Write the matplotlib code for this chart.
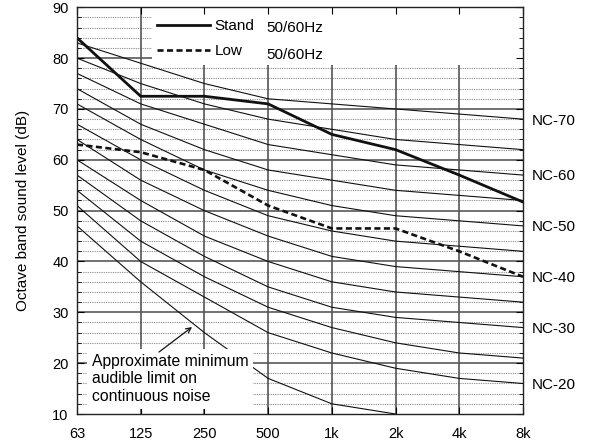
import matplotlib
matplotlib.use("Agg")
import matplotlib.pyplot as plt
from matplotlib.patches import Rectangle
from matplotlib.ticker import MultipleLocator

plt.rcParams['font.family'] = ['Liberation Sans', 'DejaVu Sans']
plt.rcParams['font.size'] = 11

freq_labels = ["63", "125", "250", "500", "1k", "2k", "4k", "8k"]

nc_names = ["NC-20", "NC-25", "NC-30", "NC-35", "NC-40", "NC-45",
            "NC-50", "NC-55", "NC-60", "NC-65", "NC-70"]
nc20 = [51, 40, 33, 26, 22, 19, 17, 16]
nc25 = [54, 44, 37, 31, 27, 24, 22, 21]
nc30 = [57, 48, 41, 35, 31, 29, 28, 27]
nc35 = [60, 52, 45, 40, 36, 34, 33, 32]
nc40 = [64, 56, 50, 45, 41, 39, 38, 37]
nc45 = [67, 60, 54, 49, 46, 44, 43, 42]
nc50 = [71, 64, 58, 54, 51, 49, 48, 47]
nc55 = [74, 67, 62, 58, 56, 54, 53, 52]
nc60 = [77, 71, 67, 63, 61, 59, 58, 57]
nc65 = [80, 75, 71, 68, 66, 64, 63, 62]
nc70 = [83, 79, 75, 72, 71, 70, 69, 68]
nc_curves = [nc20, nc25, nc30, nc35, nc40, nc45, nc50, nc55, nc60, nc65, nc70]
nc_labelled = ["NC-20", "NC-30", "NC-40", "NC-50", "NC-60", "NC-70"]

audible_limit = [47, 36, 26, 17, 12, 10]

stand_label = "Stand"
stand = [84, 72.5, 72.5, 71, 65, 62, 57, 51.7]
low_label = "Low"
low = [63, 61.5, 58, 51, 46.5, 46.5, 42, 37]
supply_label = "50/60Hz"

fig = plt.figure(figsize=(5.89, 4.46), dpi=100)
ax = fig.add_axes([77/589, 1-414/446, (523-77)/589, (414-7.3)/446])

x = list(range(len(freq_labels)))
ax.set_xlim(0, len(freq_labels) - 1)
ax.set_ylim(10, 90)

# grid
for v in range(12, 90, 2):
    if v % 10 != 0:
        ax.axhline(v, color="#8a8a8a", lw=0.8, ls=(0, (0.8, 0.8)), zorder=0.5)
for v in range(20, 90, 10):
    ax.axhline(v, color="#666666", lw=1.3, zorder=0.6)
for xi in x[1:-1]:
    ax.axvline(xi, color="#555555", lw=1.2, zorder=0.6)

# NC curves
for name, vals in zip(nc_names, nc_curves):
    ax.plot(x, vals, color="#111111", lw=0.8, zorder=2)
    if name in nc_labelled:
        ax.annotate(name, xy=(x[-1], vals[-1]), xytext=(6, -1),
                    textcoords="offset points", ha="left", va="center",
                    fontsize=11, annotation_clip=False)

ax.plot(x[:len(audible_limit)], audible_limit, color="#111111", lw=0.8, zorder=2)

# equipment lines
l1, = ax.plot(x, stand, color="#111111", lw=2.0, zorder=3)
l2, = ax.plot(x, low, color="#111111", lw=1.9, ls=(0, (2.3, 1.3)), zorder=3)

# legend area (white block, no border)
ax.add_patch(Rectangle(((152-77)/446, (78.6-10)/80), 1-(152-77)/446, 1-(78.6-10)/80,
                       transform=ax.transAxes, facecolor="white",
                       edgecolor="none", zorder=1.5))
leg = ax.legend([l1, l2], [stand_label, low_label], loc="upper left",
                bbox_to_anchor=((157-77)/446, 1-(19.5-7.3)/406.7), frameon=False,
                handlelength=3.45, handletextpad=0.33, labelspacing=0.71,
                fontsize=11, borderpad=0, borderaxespad=0)
for ypx in (32.5, 59.0):
    ax.text((266.7-77)/446, 1-(ypx-7.3)/406.7, supply_label, transform=ax.transAxes,
            ha="left", va="baseline", fontsize=11, zorder=5)

# annotation
ax.text((91.5-77)/63.7, 16.9, "Approximate minimum\naudible limit on\ncontinuous noise",
        ha="left", va="center", fontsize=11.3, linespacing=1.22,
        bbox=dict(boxstyle="square,pad=0.3", facecolor="white", edgecolor="none"),
        zorder=6)
arrow = ax.annotate("", xy=((192-77)/63.7, 10+(414-327)/5.084),
                    xytext=((159-77)/63.7, 10+(414-352)/5.084),
                    arrowprops=dict(arrowstyle="->", color="#111111", lw=0.9,
                                    shrinkA=0, shrinkB=0, mutation_scale=9))
arrow.set_zorder(8)

ax.set_xticks(x)
ax.set_xticklabels(freq_labels)
ax.yaxis.set_major_locator(MultipleLocator(10))
ax.yaxis.set_minor_locator(MultipleLocator(2))
ax.tick_params(axis="both", which="both", direction="in",
               top=True, right=True, labelsize=10.5)
ax.tick_params(axis="x", which="major", length=5, pad=9)
ax.tick_params(axis="y", which="major", length=5, pad=6)
ax.tick_params(axis="y", which="minor", length=3)
for s in ax.spines.values():
    s.set_linewidth(1.0)
    s.set_color("#222222")
    s.set_zorder(7)

ax.set_ylabel("Octave band sound level (dB)", fontsize=11, labelpad=16)

fig.savefig("out.png", dpi=100)
